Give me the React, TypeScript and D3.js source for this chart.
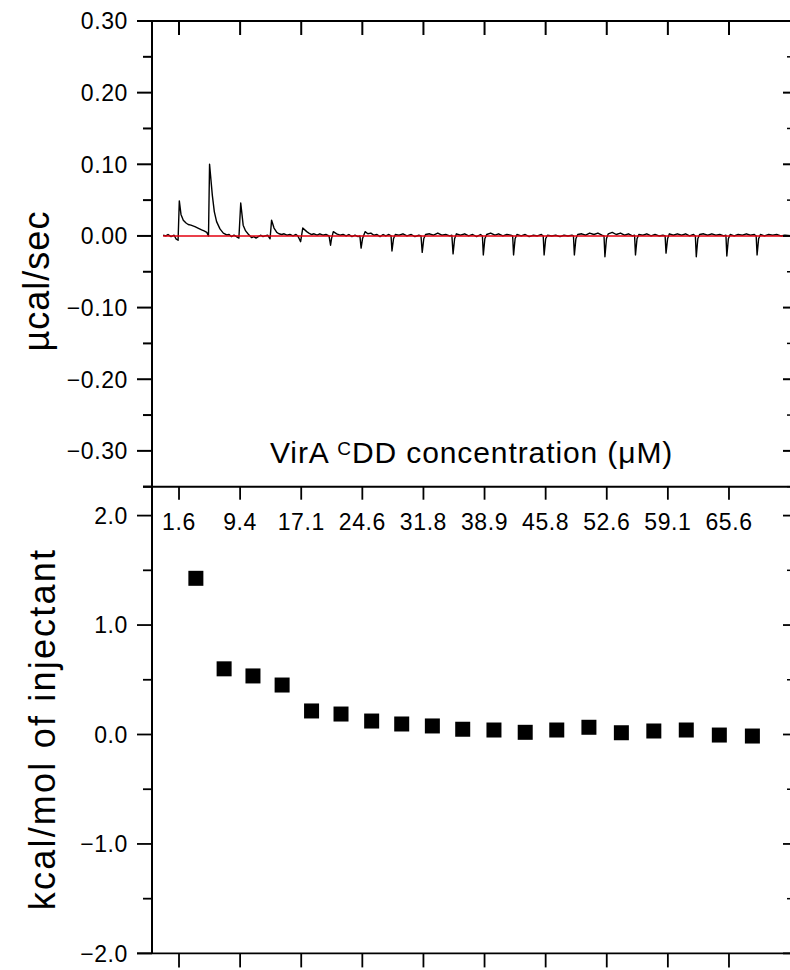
import React from 'react';
import * as d3 from 'd3';

// ---------- data ----------
const timeTicks = [0, 20, 40, 60, 80, 100, 120, 140, 160, 180];
const concLabels = ['1.6', '9.4', '17.1', '24.6', '31.8', '38.9', '45.8', '52.6', '59.1', '65.6'];
const rawMajor = [0.3, 0.2, 0.1, 0.0, -0.1, -0.2, -0.3];
const rawMinor = [0.25, 0.15, 0.05, -0.05, -0.15, -0.25, -0.35];
const heatMajor = [2, 1, 0, -1, -2];
const heatMinor = [1.5, 0.5, -0.5, -1.5];

// raw ITC thermogram: [time (min), µcal/sec]
const trace: [number, number][] = [
  [-5.2, 0.001], [-4.3, 0.0], [-3.6, 0.002], [-2.6, -0.001], [-1.6, 0.001], [-1.0, -0.004], [-0.3, -0.006],
  [0.1, 0.049], [0.65, 0.03], [1.4, 0.022], [2.3, 0.018], [3.0, 0.016], [3.9, 0.015], [5.2, 0.013], [6.2, 0.011],
  [7.4, 0.0085], [8.2, 0.007], [9.1, 0.005], [9.65, 0.0],
  [10.0, 0.1], [10.9, 0.057], [11.55, 0.034], [12.3, 0.02], [13.4, 0.0098], [14.5, 0.004], [15.6, 0.0014],
  [16.4, 0.002], [17.2, -0.001], [18.0, 0.001], [18.8, -0.001], [19.6, -0.003],
  [20.2, 0.046], [21.0, 0.015], [21.8, 0.007], [22.7, 0.0024], [23.8, -0.0024], [24.5, -0.001], [25.2, -0.003],
  [25.95, -0.001], [26.8, 0.001], [27.5, -0.001], [28.1, 0.0], [29.0, 0.001], [29.8, -0.004],
  [30.3, 0.022], [31.1, 0.011], [32.0, 0.005], [32.7, 0.003], [33.6, 0.002], [34.4, 0.003], [35.3, 0.001],
  [36.3, 0.002], [37.3, 0.0], [38.3, 0.002], [38.9, 0.0], [39.8, -0.008],
  [40.5, 0.011], [41.8, 0.006], [42.5, 0.004], [43.4, 0.002], [44.2, 0.003], [45.2, 0.001], [46.1, 0.003],
  [47.1, 0.001], [48.1, 0.002], [49.1, 0.0], [49.6, -0.013], [49.9, -0.004],
  [50.5, 0.006], [51.6, 0.003], [52.7, 0.001], [53.7, 0.002], [54.7, 0.0], [55.6, 0.002], [56.6, -0.001],
  [57.6, 0.001], [58.6, -0.001], [59.2, 0.0], [59.6, -0.017], [60.05, -0.004],
  [60.9, 0.006], [61.8, 0.003], [62.8, 0.004], [63.8, 0.001], [64.8, 0.002], [65.8, -0.001], [66.8, 0.002],
  [67.7, 0.0], [68.7, 0.002], [69.4, 0.0], [69.7, -0.021], [70.2, -0.004],
  [70.8, 0.002], [72.0, 0.001], [73.3, 0.003], [74.6, 0.0], [76.0, 0.002], [77.2, -0.001], [78.5, 0.001],
  [79.2, 0.0], [79.6, -0.023], [80.1, -0.004],
  [80.7, 0.002], [82.0, 0.003], [83.3, 0.001], [84.7, 0.004], [86.0, 0.001], [87.3, 0.002], [88.6, 0.0],
  [89.3, 0.001], [89.7, -0.025], [90.2, -0.004],
  [90.8, 0.003], [92.1, 0.001], [93.5, 0.003], [94.8, 0.0], [96.1, 0.002], [97.4, -0.001], [98.7, 0.002],
  [99.3, 0.0], [99.6, -0.0265], [100.1, -0.004],
  [100.7, 0.002], [102.0, 0.004], [103.4, 0.001], [104.6, 0.003], [106.0, 0.0], [107.3, 0.002], [108.6, 0.001],
  [109.2, 0.0], [109.5, -0.0265], [110.0, -0.004],
  [110.6, 0.002], [112.0, 0.0], [113.3, 0.002], [114.6, -0.001], [116.0, 0.001], [117.3, 0.0], [118.6, 0.002],
  [119.2, 0.0], [119.5, -0.0265], [120.0, -0.004],
  [120.6, 0.001], [122.0, 0.0], [123.3, 0.001], [124.7, -0.001], [126.0, 0.001], [127.3, 0.0], [128.6, 0.001],
  [129.1, 0.0], [129.4, -0.0265], [129.9, -0.004],
  [130.5, 0.002], [131.8, 0.003], [133.1, 0.001], [134.4, 0.004], [135.8, 0.002], [137.1, 0.004], [138.4, 0.001],
  [139.1, 0.0], [139.4, -0.029], [139.9, -0.004],
  [140.5, 0.003], [141.8, 0.005], [143.1, 0.002], [144.5, 0.004], [145.8, 0.001], [147.1, 0.003], [148.4, 0.0],
  [149.1, 0.001], [149.4, -0.0265], [149.9, -0.004],
  [150.5, 0.002], [151.8, 0.001], [153.1, 0.003], [154.5, 0.0], [155.8, 0.002], [157.1, 0.0], [158.4, 0.001],
  [159.1, 0.0], [159.4, -0.024], [159.9, -0.004],
  [160.5, 0.003], [161.8, 0.001], [163.1, 0.003], [164.5, 0.001], [165.8, 0.003], [167.1, 0.0], [168.4, 0.002],
  [169.0, 0.0], [169.3, -0.029], [169.8, -0.004],
  [170.4, 0.002], [171.7, 0.003], [173.0, 0.001], [174.4, 0.003], [175.7, 0.001], [177.0, 0.002], [178.3, 0.0],
  [179.0, 0.001], [179.3, -0.028], [179.8, -0.004],
  [180.4, 0.002], [181.7, 0.0], [183.0, 0.002], [184.4, 0.001], [185.7, 0.003], [187.0, 0.001], [188.3, 0.002],
  [188.9, 0.0], [189.2, -0.0265], [189.7, -0.004],
  [190.3, 0.002], [191.6, 0.0], [193.0, 0.002], [194.3, 0.001], [195.6, 0.002], [197.0, 0.0], [198.3, 0.001],
  [200.3, 0.0],
];
const baselineTimes = [-5.2, 200.3];
const baselineValues = [0, 0];

// integrated heats
const molarRatio = [0.146, 0.24, 0.336, 0.433, 0.531, 0.629, 0.731, 0.831, 0.933, 1.034, 1.138, 1.242, 1.347, 1.454, 1.562, 1.67, 1.778, 1.888, 1.998];
const heatValues = [1.427, 0.6, 0.535, 0.452, 0.215, 0.187, 0.123, 0.096, 0.078, 0.048, 0.041, 0.02, 0.041, 0.066, 0.016, 0.032, 0.041, -0.005, -0.014];

// ---------- layout ----------
const L = 152, R = 791, T = 21, MID = 486.7, B = 953.4;
const FONT = '"Liberation Sans", Arial, Helvetica, sans-serif';

export default function App() {
  const xt = d3.scaleLinear().domain([-8.84, 200.3]).range([L, R]);
  const xr = d3.scaleLinear().domain([0, 2.1265]).range([L, R]);
  const yTop = d3.scaleLinear().domain([-0.35, 0.3]).range([MID, T]);
  const yBot = d3.scaleLinear().domain([-2, 2.264]).range([B, MID]);
  const f2 = d3.format('.2f');
  const f1 = d3.format('.1f');

  const line = d3.line<[number, number]>().x(d => xt(d[0])).y(d => yTop(d[1]));
  const baseLine = d3.line<number>().x(d => xt(d)).y((_, i) => yTop(baselineValues[i]));

  const tickLabelStyle: React.CSSProperties = { fontSize: 23, letterSpacing: 0.6 };

  return (
    <svg width={790} height={970} style={{ position: 'absolute', left: 0, top: 0, background: '#fff' }} fontFamily={FONT}>
      <rect x={0} y={0} width={790} height={970} fill="#fff" />
      {/* ----- top panel ----- */}
      <path d={line(trace) || ''} fill="none" stroke="#000" strokeWidth={1.4} strokeLinejoin="round" />
      <path d={baseLine(baselineTimes) || ''} fill="none" stroke="#e3000f" strokeWidth={1.6} />

      {/* axes frame */}
      <line x1={L - 15} x2={R} y1={T} y2={T} stroke="#000" strokeWidth={2} />
      <line x1={L} x2={L} y1={T} y2={B} stroke="#000" strokeWidth={2} />
      <line x1={L - 9} x2={R} y1={MID} y2={MID} stroke="#000" strokeWidth={2} />
      <line x1={L - 15} x2={R} y1={B} y2={B} stroke="#000" strokeWidth={1.8} />
      <line x1={R} x2={R} y1={T} y2={B} stroke="#000" strokeWidth={2} />

      {/* top x ticks (inside) */}
      {timeTicks.map(t => (
        <line key={'tt' + t} x1={xt(t)} x2={xt(t)} y1={T} y2={T + 14} stroke="#000" strokeWidth={2} />
      ))}
      {/* middle axis ticks (downward) + concentration labels */}
      {timeTicks.map((t, i) => (
        <g key={'mt' + t}>
          <line x1={xt(t)} x2={xt(t)} y1={MID} y2={MID + 13} stroke="#000" strokeWidth={1.8} />
          <text x={xt(t)} y={530} textAnchor="middle" style={tickLabelStyle}>{concLabels[i]}</text>
        </g>
      ))}
      {/* bottom x ticks (outside) */}
      {timeTicks.map(t => (
        <line key={'bt' + t} x1={xt(t)} x2={xt(t)} y1={B} y2={B + 14} stroke="#000" strokeWidth={1.8} />
      ))}

      {/* top y ticks */}
      {rawMajor.map(v => (
        <g key={'rm' + v}>
          <line x1={L - 15} x2={L} y1={yTop(v)} y2={yTop(v)} stroke="#000" strokeWidth={2} />
          <line x1={R - 8} x2={R} y1={yTop(v)} y2={yTop(v)} stroke="#000" strokeWidth={2} />
          <text x={128} y={yTop(v)} dy="0.36em" textAnchor="end" style={tickLabelStyle}>{f2(v)}</text>
        </g>
      ))}
      {rawMinor.map(v => (
        <g key={'rn' + v}>
          <line x1={L - 9} x2={L} y1={yTop(v)} y2={yTop(v)} stroke="#000" strokeWidth={2} />
          <line x1={R - 4} x2={R} y1={yTop(v)} y2={yTop(v)} stroke="#000" strokeWidth={1.5} />
        </g>
      ))}

      {/* bottom y ticks */}
      {heatMajor.map(v => (
        <g key={'hm' + v}>
          <line x1={L - 15} x2={L} y1={yBot(v)} y2={yBot(v)} stroke="#000" strokeWidth={1.8} />
          <line x1={R - 8} x2={R} y1={yBot(v)} y2={yBot(v)} stroke="#000" strokeWidth={1.8} />
          <text x={128} y={yBot(v)} dy="0.36em" textAnchor="end" style={tickLabelStyle}>{f1(v)}</text>
        </g>
      ))}
      {heatMinor.map(v => (
        <g key={'hn' + v}>
          <line x1={L - 9} x2={L} y1={yBot(v)} y2={yBot(v)} stroke="#000" strokeWidth={1.8} />
          <line x1={R - 4} x2={R} y1={yBot(v)} y2={yBot(v)} stroke="#000" strokeWidth={1.5} />
        </g>
      ))}

      {/* data squares */}
      {molarRatio.map((r, i) => (
        <rect key={'sq' + i} x={xr(r) - 7.5} y={yBot(heatValues[i]) - 7.5} width={15} height={15} fill="#000" />
      ))}

      {/* annotation inside top panel */}
      <text x={270} y={463.3} style={{ fontSize: 30, letterSpacing: 0.9 }}>
        VirA <tspan fontSize={19} dy={-8.5}>C</tspan>
        <tspan dy={8.5}>DD concentration (μM)</tspan>
      </text>

      {/* axis titles */}
      <text transform={`translate(49,281) rotate(-90)`} textAnchor="middle" style={{ fontSize: 36, letterSpacing: 1 }}>µcal/sec</text>
      <text transform={`translate(55,729) rotate(-90)`} textAnchor="middle" style={{ fontSize: 36, letterSpacing: 2.2 }}>kcal/mol of injectant</text>
    </svg>
  );
}
